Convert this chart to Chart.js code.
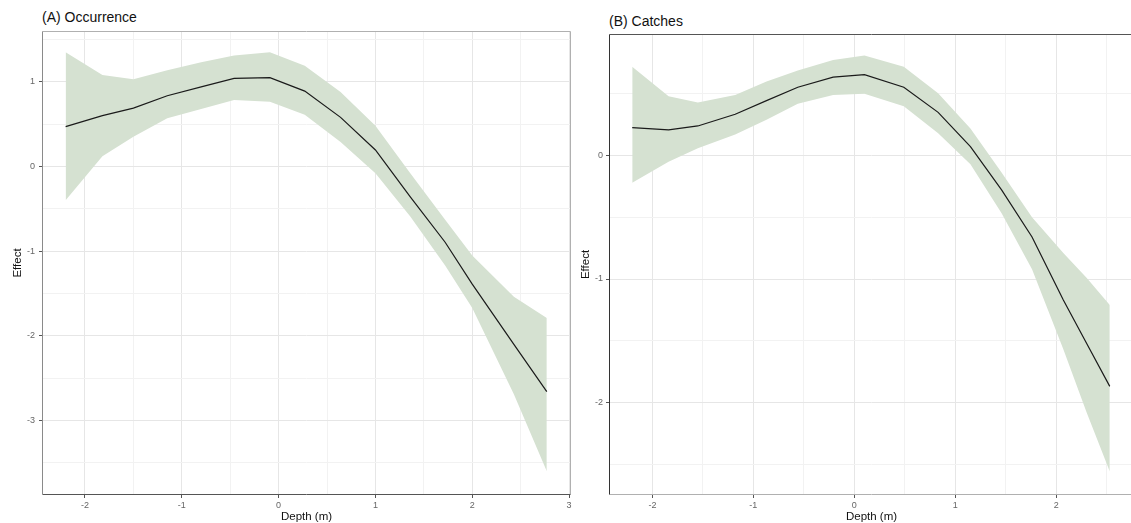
<!DOCTYPE html>
<html lang="en">
<head>
  <meta charset="UTF-8">
  <title>Depth effect</title>
  <script src="https://cdn.jsdelivr.net/npm/chart.js@4.4.0/dist/chart.umd.min.js"></script>
  <style>
    body {
      margin: 0;
      width: 1131px;
      height: 523px;
      overflow: hidden;
      background: #ffffff;
      font-family: "Liberation Sans", Arial, sans-serif;
      position: relative;
    }
    .panel-title {
      position: absolute;
      font-size: 14px;
      line-height: 14px;
      color: #111;
      white-space: nowrap;
    }
    #wrap-a { position: absolute; left: 0; top: 0; width: 580px; height: 523px; }
    #wrap-b { position: absolute; left: 575px; top: 0; width: 560px; height: 523px; }
  </style>
</head>
<body>
  <div class="panel-title" style="left:42px; top:10px;">(A) Occurrence</div>
  <div class="panel-title" style="left:609px; top:14px;">(B) Catches</div>
  <div id="wrap-a"><canvas id="chart-a" width="580" height="523"></canvas></div>
  <div id="wrap-b"><canvas id="chart-b" width="560" height="523"></canvas></div>

  <script>
    // (A) Occurrence
    const depthA = [-2.2, -1.82, -1.50, -1.15, -0.80, -0.46, -0.09, 0.27, 0.64, 1.00, 1.36, 1.72, 2.00, 2.43, 2.77];
    const fitA   = [0.47, 0.60, 0.69, 0.835, 0.94, 1.04, 1.05, 0.89, 0.58, 0.195, -0.36, -0.895, -1.39, -2.10, -2.66];
    const upperA = [1.35, 1.08, 1.03, 1.135, 1.23, 1.31, 1.35, 1.19, 0.88, 0.48, -0.08, -0.63, -1.05, -1.54, -1.79];
    const lowerA = [-0.40, 0.12, 0.35, 0.57, 0.68, 0.785, 0.765, 0.61, 0.29, -0.08, -0.59, -1.17, -1.67, -2.69, -3.60];
    const xTicksA = [-2, -1.5, -1, -0.5, 0, 0.5, 1, 1.5, 2, 2.5, 3];
    const yTicksA = [1.5, 1, 0.5, 0, -0.5, -1, -1.5, -2, -2.5, -3, -3.5];

    // (B) Catches
    const depthB = [-2.2, -1.84, -1.55, -1.18, -0.87, -0.56, -0.21, 0.10, 0.49, 0.83, 1.15, 1.46, 1.76, 2.07, 2.30, 2.53];
    const fitB   = [0.227, 0.208, 0.24, 0.335, 0.445, 0.554, 0.635, 0.656, 0.554, 0.35, 0.073, -0.28, -0.66, -1.17, -1.52, -1.87];
    const upperB = [0.72, 0.48, 0.43, 0.49, 0.60, 0.69, 0.775, 0.81, 0.72, 0.505, 0.22, -0.14, -0.50, -0.79, -0.99, -1.21];
    const lowerB = [-0.22, -0.05, 0.06, 0.17, 0.29, 0.42, 0.49, 0.50, 0.40, 0.18, -0.07, -0.47, -0.92, -1.57, -2.08, -2.56];
    const xTicksB = [-2, -1.5, -1, -0.5, 0, 0.5, 1, 1.5, 2, 2.5];
    const yTicksB = [0.5, 0, -0.5, -1, -1.5, -2, -2.5];

    Chart.defaults.font.family = '"Liberation Sans", Arial, sans-serif';

    const ribbonColor = '#d5e1d1';
    const isMajor = v => Number.isInteger(v);

    // panel frame lines drawn over the plot
    const framePlugin = {
      id: 'frame',
      afterDatasetsDraw(chart, args, opts) {
        const { ctx, chartArea: a } = chart;
        const side = (color, x1, y1, x2, y2) => {
          if (!color) return;
          ctx.save();
          ctx.strokeStyle = color;
          ctx.lineWidth = 1;
          ctx.beginPath();
          ctx.moveTo(x1, y1);
          ctx.lineTo(x2, y2);
          ctx.stroke();
          ctx.restore();
        };
        const l = Math.round(a.left) + 0.5, r = Math.round(a.right) - 0.5;
        const t = Math.round(a.top) + 0.5, b = Math.round(a.bottom) - 0.5;
        side(opts.top, l, t, r, t);
        side(opts.right, r, t, r, b);
        side(opts.bottom, l, b, r, b);
        side(opts.left, l, t, l, b);
      }
    };

    function points(xs, ys) {
      return xs.map((x, i) => ({ x: x, y: ys[i] }));
    }

    function makeChart(id, s) {
      const ctx = document.getElementById(id).getContext('2d');
      return new Chart(ctx, {
        type: 'line',
        data: {
          datasets: [
            {
              data: points(s.depth, s.fit),
              borderColor: '#1a1a1a',
              borderWidth: 1.2,
              pointRadius: 0,
              fill: false,
              tension: 0
            },
            {
              data: points(s.depth, s.upper),
              borderWidth: 0,
              borderColor: 'rgba(0,0,0,0)',
              backgroundColor: ribbonColor,
              pointRadius: 0,
              fill: '+1',
              tension: 0
            },
            {
              data: points(s.depth, s.lower),
              borderWidth: 0,
              borderColor: 'rgba(0,0,0,0)',
              pointRadius: 0,
              fill: false,
              tension: 0
            }
          ]
        },
        options: {
          responsive: false,
          animation: false,
          events: [],
          layout: { padding: s.padding },
          plugins: {
            legend: { display: false },
            tooltip: { enabled: false },
            frame: s.frame
          },
          scales: {
            x: {
              type: 'linear',
              min: s.xMin,
              max: s.xMax,
              afterBuildTicks: sc => { sc.ticks = s.xTicks.map(v => ({ value: v })); },
              afterFit: sc => { sc.height = 28; },
              border: { display: false },
              grid: {
                color: c => isMajor(c.tick.value) ? '#e6e6e6' : '#f2f2f2',
                tickColor: c => isMajor(c.tick.value) ? '#555555' : 'rgba(0,0,0,0)',
                tickLength: 3
              },
              ticks: {
                autoSkip: false,
                maxRotation: 0,
                padding: 2,
                color: '#666666',
                font: { size: 9 },
                callback: v => isMajor(v) ? String(v) : ''
              },
              title: {
                display: true,
                text: 'Depth (m)',
                color: '#111111',
                font: { size: 11.5, lineHeight: 1 },
                padding: { top: 0, bottom: 0 }
              }
            },
            y: {
              type: 'linear',
              min: s.yMin,
              max: s.yMax,
              afterBuildTicks: sc => { sc.ticks = s.yTicks.map(v => ({ value: v })); },
              afterFit: sc => { sc.width = s.yWidth; },
              border: { display: false },
              grid: {
                color: c => isMajor(c.tick.value) ? '#e6e6e6' : '#f2f2f2',
                tickColor: c => isMajor(c.tick.value) ? '#555555' : 'rgba(0,0,0,0)',
                tickLength: 3
              },
              ticks: {
                autoSkip: false,
                padding: s.yPad,
                color: '#666666',
                font: { size: 9 },
                callback: v => isMajor(v) ? String(v) : ''
              },
              title: {
                display: true,
                text: 'Effect',
                color: '#111111',
                font: { size: 11.5, lineHeight: 1 },
                padding: { top: s.yTitlePad, bottom: 0 }
              }
            }
          }
        },
        plugins: [framePlugin]
      });
    }

    makeChart('chart-a', {
      depth: depthA, fit: fitA, upper: upperA, lower: lowerA,
      xTicks: xTicksA, yTicks: yTicksA,
      xMin: -2.444, xMax: 3.02, yMin: -3.88, yMax: 1.60,
      padding: { top: 31, right: 9, bottom: 0, left: 0 },
      yWidth: 42, yPad: 4, yTitlePad: 12,
      frame: { top: '#b0b0b0', right: '#b0b0b0', bottom: '#555555', left: '#8a8a8a' }
    });

    makeChart('chart-b', {
      depth: depthB, fit: fitB, upper: upperB, lower: lowerB,
      xTicks: xTicksB, yTicks: yTicksB,
      xMin: -2.43, xMax: 2.77, yMin: -2.75, yMax: 0.985,
      padding: { top: 34, right: 1, bottom: 0, left: 0 },
      yWidth: 34, yPad: 3, yTitlePad: 5.5,
      frame: { top: '#555555', right: null, bottom: '#b0b0b0', left: '#333333' }
    });
  </script>
</body>
</html>
